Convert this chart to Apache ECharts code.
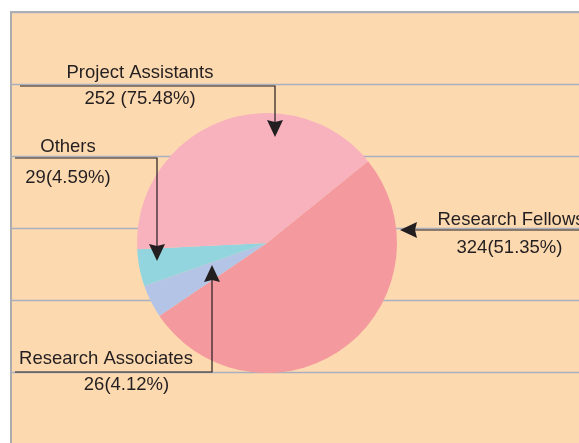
<!DOCTYPE html>
<html>
<head>
<meta charset="utf-8">
<style>
html, body { margin: 0; padding: 0; background: #fff; }
#main { width: 579px; height: 443px; }
</style>
<script src="https://cdn.jsdelivr.net/npm/echarts@6/dist/echarts.min.js"></script>
</head>
<body>
<div id="main"></div>
<script>
var categories = ['Research Fellows', 'Research Associates', 'Others', 'Project Assistants'];
var counts = [324, 26, 29, 252];
var shareLabels = ['324(51.35%)', '26(4.12%)', '29(4.59%)', '252 (75.48%)'];
var sliceColors = ['#f4999d', '#b4c4e6', '#93d5de', '#f7b2bd'];

// callout boxes: text anchor, row height, value shift, leader line and arrow tip
var callouts = [
    {x: 511, y: 234, row: 28, padL: 0, padR: 3, line: [[590, 230], [414, 230]], tip: [400, 230], dir: [-1, 0]},
    {x: 106, y: 372, row: 26, padL: 41, padR: 0, line: [[15, 372], [212, 372], [212, 280]], tip: [212, 265], dir: [0, -1]},
    {x: 68, y: 162, row: 31, padL: 0, padR: 0, line: [[15, 158], [157, 158], [157, 246]], tip: [157, 261], dir: [0, 1]},
    {x: 140, y: 86, row: 26, padL: 0, padR: 0, line: [[20, 86], [275, 86], [275, 122]], tip: [275, 137], dir: [0, 1]}
];

var textColor = '#231f20';
var fontFamily = '"Liberation Sans", Arial, sans-serif';
var fontSize = 18.5;

var pieData = categories.map(function (name, i) {
    var c = callouts[i];
    return {
        name: name,
        value: counts[i],
        itemStyle: {color: sliceColors[i]},
        label: {
            rich: {
                n: {fontSize: fontSize, fontFamily: fontFamily, color: textColor, lineHeight: c.row},
                v: {fontSize: fontSize, fontFamily: fontFamily, color: textColor, lineHeight: c.row,
                    padding: [0, c.padR, 0, c.padL]}
            }
        }
    };
});

function leader(c) {
    return {
        type: 'polyline',
        z: 100,
        shape: {points: c.line},
        style: {stroke: textColor, lineWidth: 1.2, fill: null}
    };
}

function arrowHead(c) {
    var tx = c.tip[0], ty = c.tip[1], dx = c.dir[0], dy = c.dir[1];
    var px = -dy, py = dx;
    return {
        type: 'polygon',
        z: 101,
        shape: {points: [
            [tx, ty],
            [tx - 17 * dx + 8 * px, ty - 17 * dy + 8 * py],
            [tx - 15 * dx, ty - 15 * dy],
            [tx - 17 * dx - 8 * px, ty - 17 * dy - 8 * py]
        ]},
        style: {fill: textColor}
    };
}

var myChart = echarts.init(document.getElementById('main'));

var option = {
    animation: false,
    backgroundColor: '#ffffff',
    grid: {
        left: 11, top: 12, right: -10, bottom: -1,
        outerBoundsMode: 'none',
        containLabel: false,
        show: true,
        backgroundColor: '#fdd9b0',
        borderColor: '#acacac',
        borderWidth: 2
    },
    xAxis: {type: 'value', show: false},
    yAxis: {
        type: 'value',
        min: 0, max: 6, interval: 1,
        axisLabel: {show: false},
        axisTick: {show: false},
        axisLine: {show: false},
        splitLine: {lineStyle: {color: '#a8b0be', width: 1.3}}
    },
    graphic: callouts.map(leader).concat(callouts.map(arrowHead)),
    series: [{
        type: 'pie',
        center: [267, 243],
        radius: 130,
        startAngle: 39,
        clockwise: true,
        avoidLabelOverlap: false,
        itemStyle: {borderWidth: 0},
        label: {
            show: true,
            position: 'outside',
            formatter: function (p) {
                return '{n|' + p.name + '}\n{v|' + shareLabels[p.dataIndex] + '}';
            }
        },
        labelLine: {show: false},
        labelLayout: function (params) {
            var c = callouts[params.dataIndex];
            return {x: c.x, y: c.y, align: 'center', verticalAlign: 'middle'};
        },
        emphasis: {disabled: true},
        data: pieData
    }]
};

myChart.setOption(option);
</script>
</body>
</html>
